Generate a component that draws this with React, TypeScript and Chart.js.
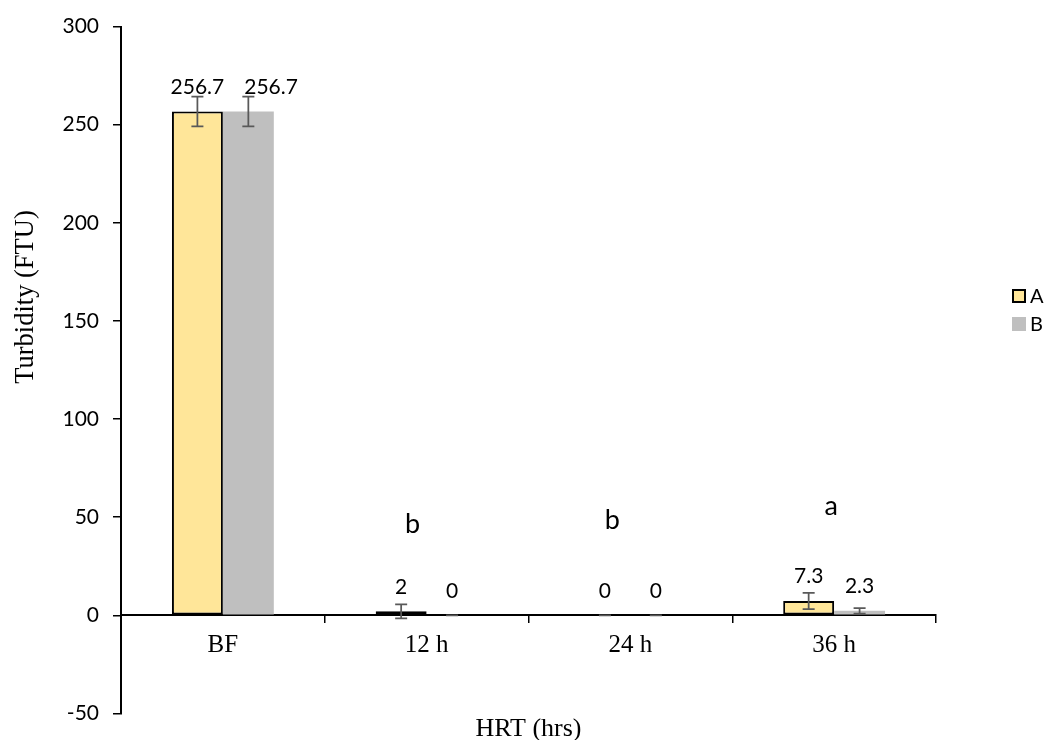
import { useEffect, useRef } from 'react';
import { Chart, registerables } from 'chart.js';

Chart.register(...registerables);

// Turbidity by hydraulic retention time
const categories = ['BF', '12 h', '24 h', '36 h'];
const seriesNames = ['A', 'B'];
const valuesA = [256.7, 2, 0, 7.3];
const valuesB = [256.7, 0, 0, 2.3];
const errorsA = [7.6, 3.6, 0, 4.1];
const errorsB = [7.6, 0, 0, 1.4];
const yTickValues = [-50, 0, 50, 100, 150, 200, 250, 300];

// significance letters per group and the turbidity level they sit at
const groupLetters = ['', 'b', 'b', 'a'];
const letterLevels = [0, 42, 44, 51];

const colorA = '#FFE699';
const colorB = '#BFBFBF';
const sansFont = "Lato, 'Open Sans', sans-serif";
const serifFont = "'Liberation Serif', 'Times New Roman', serif";

const errorSets = [errorsA, errorsB];

const errorBarPlugin = {
  id: 'errorBars',
  afterDatasetsDraw(chart: any) {
    const { ctx } = chart;
    const yScale = chart.scales.y;
    ctx.save();
    ctx.strokeStyle = '#595959';
    ctx.lineWidth = 1.75;
    errorSets.forEach((errs, di) => {
      const meta = chart.getDatasetMeta(di);
      meta.data.forEach((bar: any, i: number) => {
        const v = chart.data.datasets[di].data[i] as number;
        const top = yScale.getPixelForValue(v + errs[i]);
        const bot = yScale.getPixelForValue(v - errs[i]);
        const x = bar.x;
        const cap = 6;
        ctx.beginPath();
        ctx.moveTo(x, top);
        ctx.lineTo(x, bot);
        ctx.moveTo(x - cap, top);
        ctx.lineTo(x + cap, top);
        ctx.moveTo(x - cap, bot);
        ctx.lineTo(x + cap, bot);
        ctx.stroke();
      });
    });
    ctx.restore();
  },
};

const valueLabelPlugin = {
  id: 'valueLabels',
  afterDatasetsDraw(chart: any) {
    const { ctx } = chart;
    ctx.save();
    ctx.font = `21px ${sansFont}`;
    ctx.fillStyle = '#000';
    ctx.textAlign = 'left';
    ctx.textBaseline = 'alphabetic';
    const lastRight: number[] = [];
    chart.data.datasets.forEach((ds: any, di: number) => {
      const meta = chart.getDatasetMeta(di);
      meta.data.forEach((bar: any, i: number) => {
        const text = String(ds.data[i]);
        const w = ctx.measureText(text).width;
        let left = bar.x - w / 2;
        // keep neighbouring labels in a group apart
        if (lastRight[i] !== undefined && left < lastRight[i] + 20) {
          left = lastRight[i] + 20;
        }
        lastRight[i] = left + w;
        ctx.fillText(text, left, bar.y - 17.5);
      });
    });
    ctx.restore();
  },
};

const letterPlugin = {
  id: 'groupLetters',
  afterDatasetsDraw(chart: any) {
    const { ctx } = chart;
    const xScale = chart.scales.x;
    const yScale = chart.scales.y;
    const shifts = [0, -14, -18, -3];
    ctx.save();
    ctx.font = `27px ${sansFont}`;
    ctx.fillStyle = '#000';
    ctx.textAlign = 'center';
    ctx.textBaseline = 'alphabetic';
    groupLetters.forEach((letter, i) => {
      if (!letter) return;
      ctx.fillText(letter, xScale.getPixelForValue(i) + shifts[i], yScale.getPixelForValue(letterLevels[i]));
    });
    ctx.restore();
  },
};

const sideLegendPlugin = {
  id: 'sideLegend',
  afterDraw(chart: any) {
    const { ctx } = chart;
    const x = chart.chartArea.right + 76;
    const y0 = 289;
    ctx.save();
    ctx.font = `20px ${sansFont}`;
    ctx.textBaseline = 'alphabetic';
    ctx.textAlign = 'left';
    chart.data.datasets.forEach((ds: any, i: number) => {
      const y = y0 + i * 28;
      ctx.fillStyle = ds.backgroundColor;
      ctx.fillRect(x, y, 14, 14);
      if (ds.borderWidth) {
        ctx.strokeStyle = '#000';
        ctx.lineWidth = 2;
        ctx.strokeRect(x + 1, y + 1, 12, 12);
      }
      ctx.fillStyle = '#000';
      ctx.fillText(ds.label, x + 18, y + 14);
    });
    ctx.restore();
  },
};

const axisTitlePlugin = {
  id: 'axisTitles',
  afterDraw(chart: any) {
    const { ctx, chartArea } = chart;
    ctx.save();
    ctx.fillStyle = '#000';
    ctx.font = `26px ${serifFont}`;
    ctx.textAlign = 'center';
    ctx.textBaseline = 'alphabetic';
    ctx.fillText('HRT (hrs)', (chartArea.left + chartArea.right) / 2, 736);
    ctx.translate(26, 297);
    ctx.rotate(-Math.PI / 2);
    ctx.textBaseline = 'middle';
    ctx.font = `26.5px ${serifFont}`;
    ctx.fillText('Turbidity (FTU)', 0, 0);
    ctx.restore();
  },
};

export default function App() {
  const canvasRef = useRef<HTMLCanvasElement | null>(null);

  useEffect(() => {
    if (!canvasRef.current) return;
    const chart = new Chart(canvasRef.current, {
      type: 'bar',
      data: {
        labels: categories,
        datasets: [
          {
            label: seriesNames[0],
            data: valuesA,
            backgroundColor: colorA,
            borderColor: '#000',
            borderWidth: 2,
            borderSkipped: false,
            barPercentage: 1,
            categoryPercentage: 0.5,
          },
          {
            label: seriesNames[1],
            data: valuesB,
            backgroundColor: colorB,
            borderWidth: 0,
            barPercentage: 1,
            categoryPercentage: 0.5,
          },
        ],
      },
      options: {
        responsive: false,
        animation: false,
        layout: { padding: { left: 0, top: 23.5, right: 113, bottom: 26.5 } },
        plugins: {
          legend: { display: false },
          tooltip: { enabled: false },
        },
        scales: {
          x: {
            position: { y: 0 } as any,
            offset: true,
            grid: {
              display: true,
              offset: true,
              drawOnChartArea: false,
              drawTicks: true,
              tickLength: 7,
              color: '#000',
              lineWidth: 1.5,
            },
            border: { display: true, color: '#000', width: 2 },
            ticks: {
              color: '#000',
              font: { family: serifFont, size: 25 },
              padding: 8,
            },
          },
          y: {
            min: -50,
            max: 300,
            afterBuildTicks: (scale: any) => {
              scale.ticks = yTickValues.map((v) => ({ value: v }));
            },
            afterFit: (scale: any) => {
              scale.width = 121;
            },
            grid: {
              display: true,
              drawOnChartArea: false,
              drawTicks: true,
              tickLength: 8,
              color: '#000',
              lineWidth: 1.5,
            },
            border: { display: true, color: '#000', width: 2 },
            ticks: {
              color: '#000',
              font: { family: sansFont, size: 21 },
              padding: 14,
            },
          },
        },
      },
      plugins: [errorBarPlugin, valueLabelPlugin, letterPlugin, sideLegendPlugin, axisTitlePlugin],
    });
    return () => chart.destroy();
  }, []);

  return (
    <canvas
      ref={canvasRef}
      width={1049}
      height={740}
      style={{ position: 'absolute', left: 0, top: 0, display: 'block', background: '#fff' }}
    />
  );
}
